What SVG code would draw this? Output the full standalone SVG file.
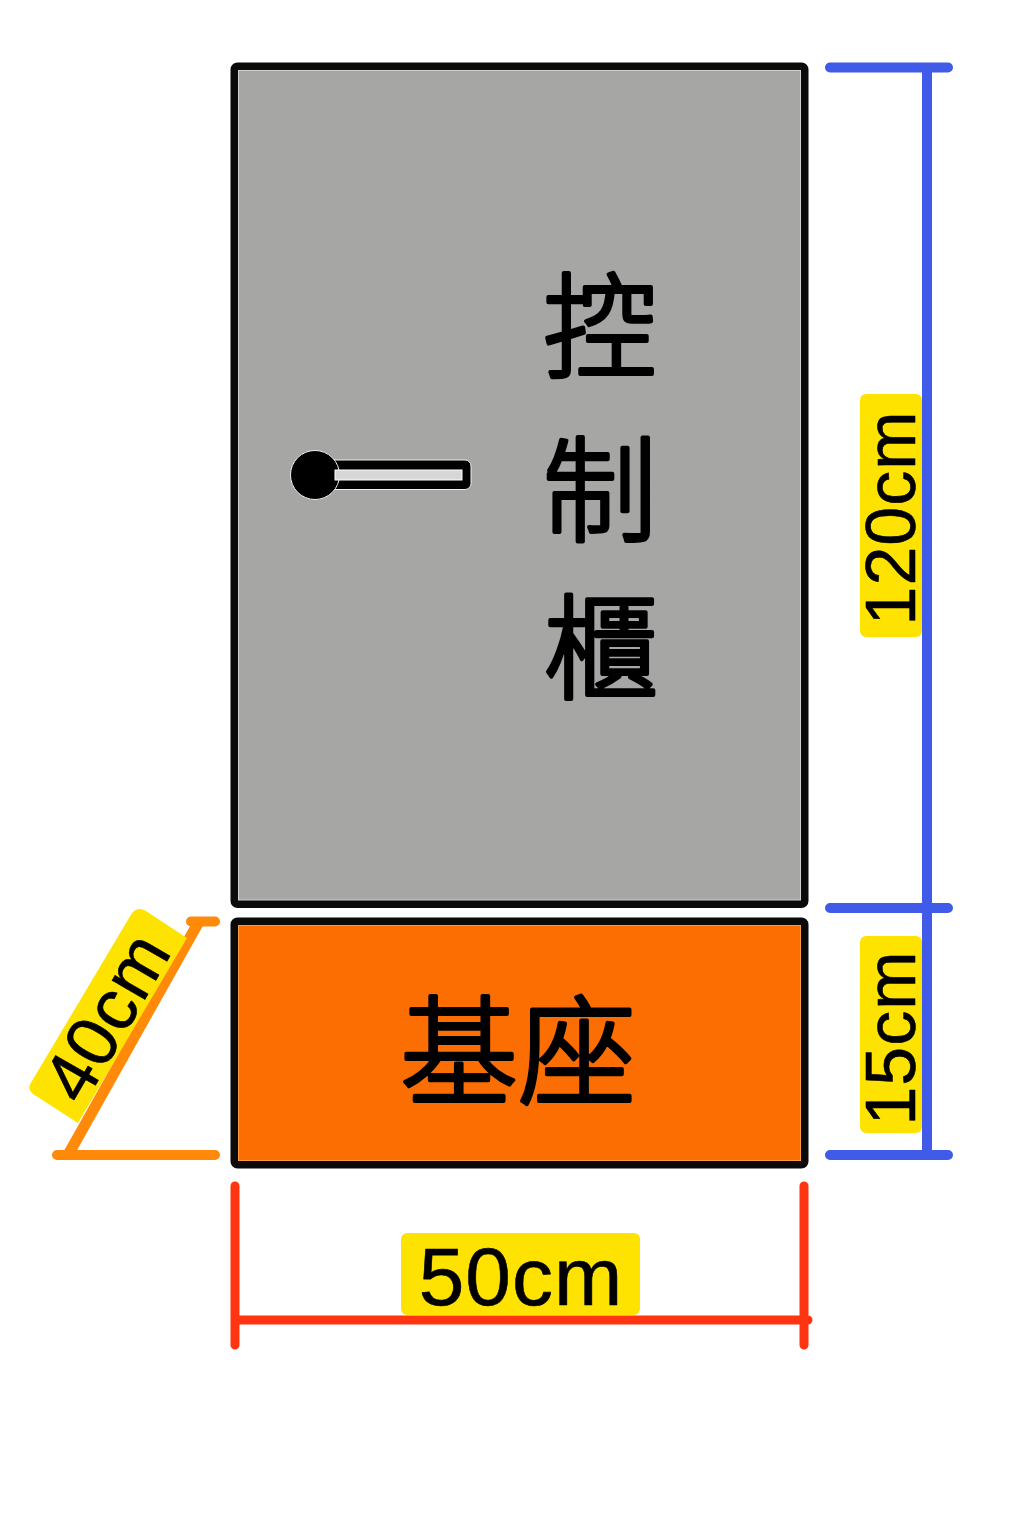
<svg xmlns="http://www.w3.org/2000/svg" width="1024" height="1536" viewBox="0 0 1024 1536">
<style>
.box{stroke:#0a0a0a;stroke-width:8;stroke-linejoin:round}
.inner{fill:none;stroke-width:1}
.blue{stroke:#3f5be8;stroke-width:10;stroke-linecap:round;fill:none}
.red{stroke:#ff3410;stroke-width:9;stroke-linecap:round;fill:none}
.org{stroke:#ff8a0a;stroke-width:10;stroke-linecap:round;fill:none}
.diag{stroke:#ff8a0a;stroke-width:11;fill:none}
.tag{fill:#ffe300}
.lab{font-family:"Liberation Sans",Arial,sans-serif;fill:#000;stroke:#000;stroke-width:.6;stroke-linejoin:round;text-anchor:middle;letter-spacing:1px}
.cjk{font-family:"Noto Sans CJK TC","Noto Sans CJK SC",sans-serif;fill:#000;stroke:#000;stroke-width:4;stroke-linejoin:round;stroke-linecap:round;text-anchor:middle;font-weight:300}
</style>
<rect width="1024" height="1536" fill="#fff"/>
<g id="cabinet">
<rect class="box" x="234.500" y="66.500" width="570" height="837.500" rx="3" fill="#a6a6a5"/>
<rect class="inner" x="238.500" y="70.500" width="562" height="829.500" stroke="#d0d0d0"/>
<text class="cjk" x="600" y="368" font-size="114">控</text>
<text class="cjk" x="600" y="532" font-size="114">制</text>
<text class="cjk" x="601" y="690" font-size="114">櫃</text>
</g>
<g id="handle">
<rect x="318" y="460" width="153" height="29.500" rx="6" fill="#000" stroke="#eee" stroke-width="1"/>
<circle cx="315" cy="475" r="24.500" fill="#000" stroke="#eee" stroke-width="1"/>
<rect x="335" y="470" width="127" height="10" fill="#d8d7d7" stroke="#fff" stroke-width="1"/>
</g>
<g id="base">
<rect class="box" x="234.500" y="921.500" width="570" height="243" rx="3" fill="#fd6e02"/>
<rect class="inner" x="238.500" y="925.500" width="562" height="235" stroke="#ff9a3c"/>
<text class="cjk" x="518" y="1095" font-size="118">基座</text>
</g>
<g id="connectors">
<path class="blue" d="M830 67.500H948M927 67.500V1155M830 908H948M830 1155H948"/>
<path class="red" d="M235 1186V1345M804 1186V1345M235 1320H808"/>
<path class="org" d="M191 921.500H215M57 1155H215"/>
<path class="diag" d="M199 921.500L68 1155"/>
</g>
<g id="label-120cm">
<rect class="tag" x="860" y="394" width="62" height="243" rx="6"/>
<text class="lab" font-size="70" transform="translate(915 518) rotate(-90)">120cm</text>
</g>
<g id="label-15cm">
<rect class="tag" x="860" y="936" width="62" height="197" rx="6"/>
<text class="lab" font-size="70" transform="translate(915 1038) rotate(-90)">15cm</text>
</g>
<g id="label-50cm">
<rect class="tag" x="401" y="1233" width="239" height="82" rx="6"/>
<text class="lab" x="521" y="1305" font-size="82">50cm</text>
</g>
<g id="label-40cm">
<path class="tag" d="M132 913Q138 906 146 911L187 938L78 1123L33 1094Q26 1088 32 1081Z"/>
<text class="lab" font-size="72" transform="translate(128 1029) rotate(-60)">40cm</text>
</g>
</svg>
